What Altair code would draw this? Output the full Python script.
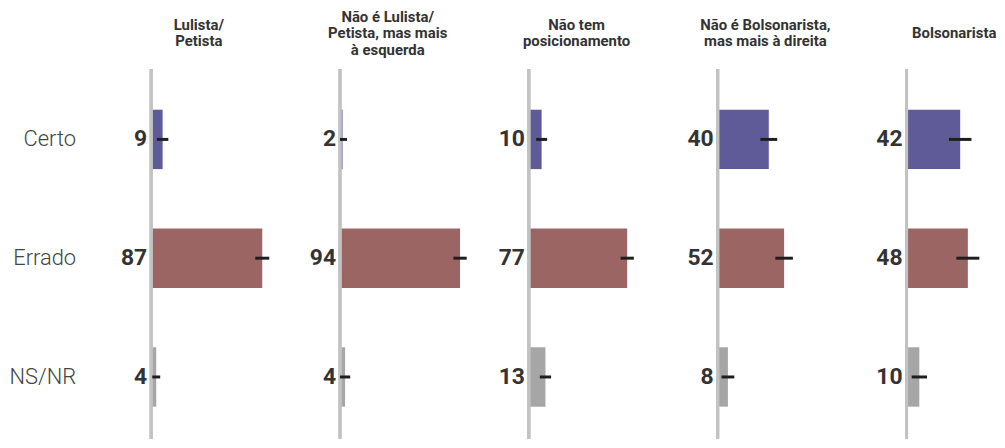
import altair as alt
import pandas as pd

groups = [
    "Lulista/|Petista",
    "Não é Lulista/|Petista, mas mais|à esquerda",
    "Não tem|posicionamento",
    "Não é Bolsonarista,|mas mais à direita",
    "Bolsonarista",
]
answers = ["Certo", "Errado", "NS/NR"]
certo = [9, 2, 10, 40, 42]
errado = [87, 94, 77, 52, 48]
nsnr = [4, 4, 13, 8, 10]
certo_err = [4.5, 3.5, 4.3, 6.6, 8.8]
errado_err = [5.5, 5.2, 5.2, 6.9, 9.0]
nsnr_err = [3.1, 4.0, 4.4, 5.0, 6.0]
colors = ["#5f5b99", "#9b6563", "#a6a6a6"]

rows = []
for i, g in enumerate(groups):
    for a, vals, errs in zip(answers, [certo, errado, nsnr], [certo_err, errado_err, nsnr_err]):
        v, e = vals[i], errs[i]
        rows.append({"group": g, "answer": a, "value": v,
                     "lo": max(0, v - e), "hi": v + e})
df = pd.DataFrame(rows)

xscale = alt.Scale(domain=[0, 100], range=[0, 128.5], nice=False)
yenc = alt.Y("answer:N", sort=answers, title=None,
             scale=alt.Scale(paddingInner=0.5, paddingOuter=0.3065, align=0.56),
             axis=alt.Axis(domain=False, ticks=False, grid=False, labelPadding=76,
                           labelFont="Roboto", labelFontSize=22, labelFontWeight=300,
                           labelColor="#444"))

base = alt.Chart(df)

bars = base.mark_bar().encode(
    x=alt.X("value:Q", scale=xscale, axis=None),
    y=yenc,
    color=alt.Color("answer:N", scale=alt.Scale(domain=answers, range=colors), legend=None),
)

vline = base.mark_rule(color="#c2c2c2", strokeWidth=3).encode(
    x=alt.datum(0, scale=xscale),
)

errs = base.mark_rule(color="#1e1e1e", strokeWidth=3).encode(
    x=alt.X("lo:Q", scale=xscale),
    x2="hi:Q",
    y=yenc,
)

labels = base.mark_text(align="right", baseline="middle", dx=-4, font="Roboto",
                        fontSize=23, fontWeight="bold", color="#333").encode(
    x=alt.datum(0, scale=xscale),
    y=yenc,
    text="value:Q",
)

LH = 16.5
title_layers = []
for n in (1, 2, 3):
    title_layers.append(
        base.transform_filter(alt.datum.answer == "Certo")
        .transform_filter(f"length(split(datum.group, '|')) == {n}")
        .mark_text(align="center", baseline="middle", lineBreak="|", lineHeight=LH,
                   font="Roboto", fontSize=15, fontWeight="bold", color="#333")
        .encode(x=alt.value(48), y=alt.value(-36 - (n - 1) * LH / 2), text="group:N")
    )

layer = alt.layer(bars, vline, errs, labels, *title_layers).properties(width=87, height=372)

chart = layer.facet(
    column=alt.Column("group:N", sort=groups, title=None,
                      header=alt.Header(labels=False, title=None)),
    spacing=103,
    bounds="flush",
).properties(padding=0).configure(background="white").configure_view(stroke=None)

chart.save("out.html", embed_options={"renderer": "svg", "actions": False})
